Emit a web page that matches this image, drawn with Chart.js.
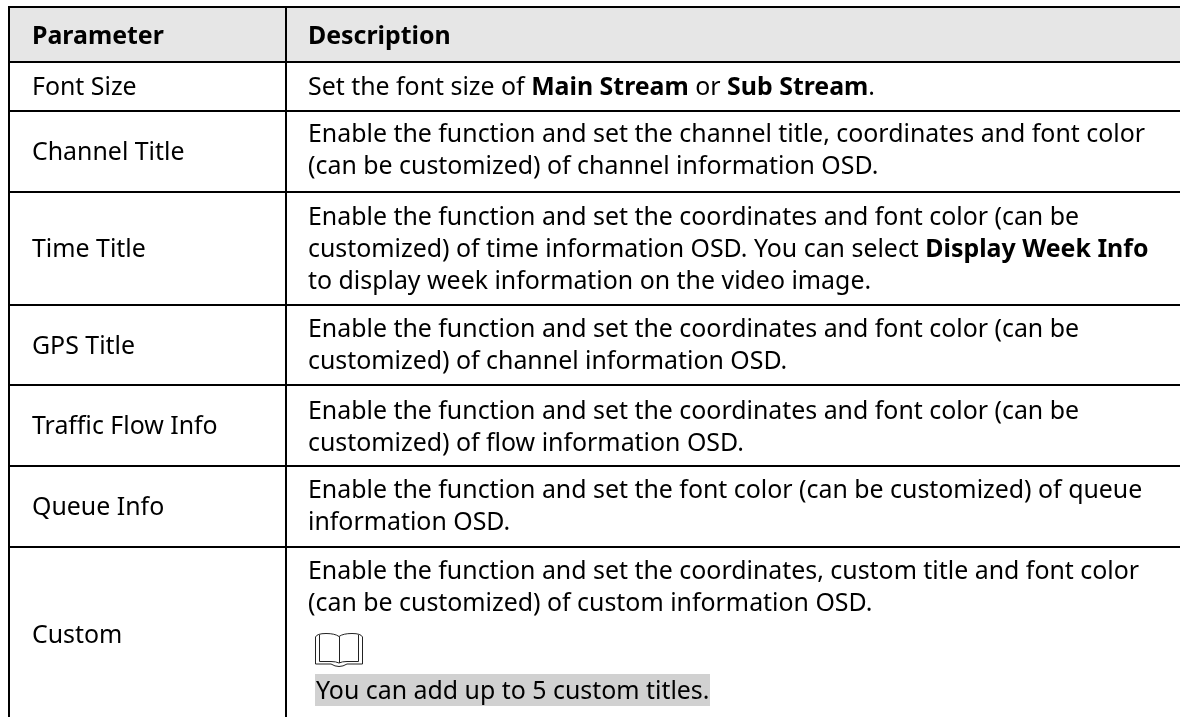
<!DOCTYPE html>
<html>
<head>
<meta charset="utf-8">
<style>
  html, body { margin: 0; padding: 0; background: #fff; overflow: hidden; }
  #wrap { width: 1180px; height: 717px; }
</style>
<script src="https://cdn.jsdelivr.net/npm/chart.js@4"></script>
</head>
<body>
<div id="wrap"><canvas id="table"></canvas></div>
<script>
const columnEdges = [9, 286];
const rowEdges = [7, 62, 111, 192, 305, 385, 466, 547];
const headers = ['Parameter', 'Description'];
const parameters = ['Font Size', 'Channel Title', 'Time Title', 'GPS Title', 'Traffic Flow Info', 'Queue Info', 'Custom'];
// ** marks the bold runs of a line
const descriptions = [
    ['Set the font size of **Main Stream** or **Sub Stream**.'],
    ['Enable the function and set the channel title, coordinates and font color', '(can be customized) of channel information OSD.'],
    ['Enable the function and set the coordinates and font color (can be', 'customized) of time information OSD. You can select **Display Week Info**', 'to display week information on the video image.'],
    ['Enable the function and set the coordinates and font color (can be', 'customized) of channel information OSD.'],
    ['Enable the function and set the coordinates and font color (can be', 'customized) of flow information OSD.'],
    ['Enable the function and set the font color (can be customized) of queue', 'information OSD.'],
    ['Enable the function and set the coordinates, custom title and font color', '(can be customized) of custom information OSD.']
];
const note = 'You can add up to 5 custom titles.';

const firstBaselines = [95, 142, 225, 337, 419, 498, 579];
const parameterBaselines = [95, 160, 257, 354, 434, 515, 643];

const FONT = '"Noto Sans"';
const SIZE = 24.9;
const LINE = 32;
const LEFT_TEXT = 32;
const RIGHT_TEXT = 308;

function drawRuns(ctx, line, x, y) {
    line.split('**').forEach((run, i) => {
        ctx.font = (i % 2 ? 'bold ' : '') + SIZE + 'px ' + FONT;
        ctx.fillText(run, x, y);
        x += ctx.measureText(run).width;
    });
}

function drawBook(ctx) {
    ctx.strokeStyle = '#222';
    ctx.lineWidth = 1;
    ctx.beginPath();
    // cover
    ctx.moveTo(315.5, 637);
    ctx.lineTo(315.5, 664);
    ctx.lineTo(331, 664);
    ctx.quadraticCurveTo(339, 669, 347, 664);
    ctx.lineTo(362.5, 664);
    ctx.lineTo(362.5, 637);
    ctx.quadraticCurveTo(361, 633.5, 352, 633.5);
    ctx.quadraticCurveTo(343, 633.5, 339, 636.5);
    ctx.quadraticCurveTo(335, 633.5, 326, 633.5);
    ctx.quadraticCurveTo(317, 633.5, 315.5, 637);
    // pages
    ctx.moveTo(319.5, 635);
    ctx.lineTo(319.5, 661.5);
    ctx.lineTo(331, 661.5);
    ctx.quadraticCurveTo(336, 661.5, 339, 663);
    ctx.quadraticCurveTo(342, 661.5, 347, 661.5);
    ctx.lineTo(358.5, 661.5);
    ctx.lineTo(358.5, 635);
    ctx.moveTo(339.5, 636.5);
    ctx.lineTo(339.5, 663);
    ctx.stroke();
}

const tablePlugin = {
    id: 'tablePlugin',
    beforeDraw(chart) {
        const ctx = chart.ctx, xs = chart.scales.x, ys = chart.scales.y;
        ctx.save();
        ctx.fillStyle = '#e6e6e6';
        const top = ys.getPixelForValue(rowEdges[0]);
        ctx.fillRect(xs.left, top, xs.width, ys.getPixelForValue(rowEdges[1]) - top);
        ctx.fillStyle = '#d1d1d1';
        ctx.fillRect(315, 674, 395, 32);
        ctx.restore();
    },
    afterDatasetsDraw(chart) {
        const ctx = chart.ctx;
        ctx.save();
        ctx.fillStyle = '#000';
        ctx.textBaseline = 'alphabetic';
        ctx.font = 'bold ' + SIZE + 'px ' + FONT;
        ctx.fillText(headers[0], LEFT_TEXT, 44);
        ctx.fillText(headers[1], RIGHT_TEXT, 44);
        ctx.font = SIZE + 'px ' + FONT;
        parameters.forEach((p, i) => ctx.fillText(p, LEFT_TEXT, parameterBaselines[i]));
        descriptions.forEach((lines, i) => {
            lines.forEach((l, j) => drawRuns(ctx, l, RIGHT_TEXT, firstBaselines[i] + j * LINE));
        });
        ctx.font = SIZE + 'px ' + FONT;
        ctx.fillText(note, 316, 699);
        drawBook(ctx);
        ctx.restore();
    }
};

new Chart(document.getElementById('table'), {
    type: 'scatter',
    data: { datasets: [{ data: [], pointRadius: 0 }] },
    plugins: [tablePlugin],
    options: {
        responsive: true,
        maintainAspectRatio: false,
        animation: false,
        layout: { padding: { left: 8, top: 6, right: 0, bottom: 0 } },
        plugins: { legend: { display: false }, tooltip: { enabled: false } },
        scales: {
            x: {
                type: 'linear', min: 8, max: 1180,
                afterBuildTicks: (s) => { s.ticks = columnEdges.map(v => ({ value: v })); },
                ticks: { display: false },
                border: { display: false },
                grid: { color: '#000', lineWidth: 2, drawTicks: false }
            },
            y: {
                type: 'linear', min: 6, max: 717, reverse: true,
                afterBuildTicks: (s) => { s.ticks = rowEdges.map(v => ({ value: v })); },
                ticks: { display: false },
                border: { display: false },
                grid: { color: '#000', lineWidth: 2, drawTicks: false }
            }
        }
    }
});
</script>
</body>
</html>
